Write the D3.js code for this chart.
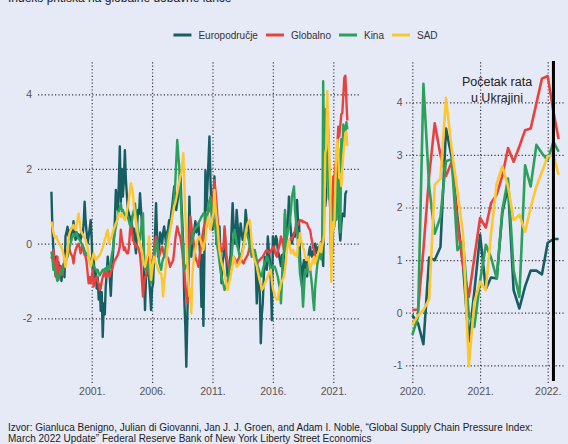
<!DOCTYPE html>
<html>
<head>
<meta charset="utf-8">
<script src="https://cdn.jsdelivr.net/npm/d3@7"></script>
<style>
  body { margin: 0; background: #e6e9f6; }
  svg text { font-family: "Liberation Sans", Arial, sans-serif; }
</style>
</head>
<body>
<script>
const W = 568, H = 444

// series names + colours (legend order = draw order)
const names = ["Europodručje", "Globalno", "Kina", "SAD"]
const colors = ["#175e63", "#e8423f", "#2ba05a", "#fdc731"]

// monthly values, Sep 1997 .. Dec 2019 (one row per year)
const euHist = [
  [1.39, 0.4, -0.17, -0.4],
  [-0.6, -0.35, -0.9, -0.5, -0.8, -0.6, -1.0, -0.7, -0.55, -0.9, 0.2, 0.3],
  [0.45, 0.2, 0.35, 0.1, 0.4, 0.3, 0.6, 0.25, 0.1, 0.3, 0.15, 0.25],
  [0.2, 0.1, 0.3, 0.2, 0.5, 1.12, 0.6, 0.3, 0.0, 0.2, 0.4, 0.63],
  [0.1, -0.7, -0.4, -0.9, -0.7, -1.2, -0.9, -1.5, -1.1, -1.8, -1.3, -2.5],
  [-1.6, -1.9, -1.15, -0.8, -0.35, -0.7, -0.9, -1.4, -0.8, -0.35, 0.1, 0.6],
  [1.44, 1.1, 0.9, 1.6, 2.6, 1.1, 2.0, 1.26, 1.7, 2.5, 1.7, 1.3],
  [0.9, 0.8, 0.6, 0.72, 0.5, 0.3, 0.4, 0.0, -0.26, 0.4, 0.9, 0.8],
  [1.35, 0.9, 0.5, 0.2, -0.6, -1.78, -0.9, -0.8, -0.53, -0.9, -1.3, -1.78],
  [-1.2, -1.06, -0.4, 0.3, 1.08, 0.2, -0.35, -0.1, 0.3, 0.19, 0.0, 0.3],
  [0.46, 0.2, 0.0, 0.3, 0.4, 0.63, 0.5, 0.8, 1.0, 1.26, 1.53, 1.2],
  [0.9, 1.1, 1.26, 1.5, 1.96, 1.2, 0.6, -0.08, -1.5, -2.2, -3.3, -2.0],
  [-0.7, 1.26, 0.4, -0.35, 0.1, 0.2, 0.37, 0.6, 0.3, 0.5, 0.54, 0.1],
  [-0.5, -1.69, -0.3, -2.2, -0.35, 1.96, 0.9, 1.5, 2.2, 2.87, 1.7, 1.0],
  [0.37, 1.2, 1.8, 1.0, 0.0, 0.3, 0.2, 0.46, -0.4, -1.06, -0.5, -0.35],
  [0.37, -0.2, -0.5, -0.88, -0.6, -0.53, -0.3, 0.4, 1.08, 0.5, 0.0, 0.2],
  [0.9, 0.5, -0.17, 0.2, 0.54, 0.3, 0.1, 0.19, 0.4, 0.9, 0.6, 0.5],
  [0.37, 0.1, -0.2, -0.08, -0.2, -0.3, -0.35, -0.6, -1.6, -0.9, -0.7, -1.3],
  [-2.67, -1.9, -1.6, -0.9, -0.35, -0.5, -0.7, 0.19, -0.2, -0.44, -1.0, -2.05],
  [0.19, -0.1, 0.0, 0.2, 0.1, -0.2, -0.3, -0.44, -0.6, -0.3, -0.8, -0.53],
  [0.8, 0.3, 0.19, 0.6, 1.26, 0.63, 0.3, 0.0, 0.2, 0.28, 0.19, 0.5],
  [1.17, 0.54, 0.6, -0.35, -0.8, -1.15, -0.6, -0.44, -0.7, -0.5, -0.88, -0.44],
  [-0.2, -0.08, -0.3, -0.35, -0.2, -0.35, 0.0, -0.1, -0.26, -0.1, -0.17, 0.0]
].flat()

const glHist = [
  [-0.4, -0.3, -0.17, -0.5],
  [-0.88, -0.6, -0.35, -0.97, -0.7, -0.62, -0.8, -0.84, -0.6, -0.5, -0.35, -0.3],
  [-0.2, -0.08, -0.15, -0.25, -0.3, -0.35, -0.53, -0.3, -0.17, -0.1, -0.05, 0.0],
  [-0.1, -0.26, -0.15, -0.04, -0.2, -0.3, -0.35, -0.5, -0.8, -1.06, -0.9, -1.06],
  [-0.9, -0.7, -1.15, -1.0, -0.95, -0.88, -1.0, -1.1, -1.24, -1.2, -1.0, -0.9],
  [-0.8, -0.75, -0.9, -0.7, -0.8, -0.85, -0.88, -0.75, -0.7, -0.62, -0.5, -0.45],
  [-0.4, -0.35, -0.3, -0.2, -0.08, 0.37, 0.1, 0.0, -0.17, -0.1, -0.2, -0.26],
  [-0.26, -0.1, 0.3, 0.54, 0.3, 0.1, 0.05, 0.0, -0.1, -0.05, -0.1, -0.17],
  [-0.3, -0.6, -1.0, -1.42, -1.1, -0.9, -0.88, -0.7, -0.5, -0.35, -0.4, -0.5],
  [-0.53, -0.4, -0.2, 0.0, 0.19, 0.0, -0.2, -0.35, -0.25, -0.15, -0.08, -0.2],
  [-0.3, -0.25, -0.35, -0.35, -0.4, -0.5, -0.62, -0.55, -0.5, -0.44, -0.2, 0.1],
  [0.3, 0.46, 0.35, 0.25, 0.19, 0.0, -0.2, -0.5, -0.7, -1.1, -1.4, -1.6],
  [-1.2, 0.2, 0.72, 0.5, 0.28, 0.1, -0.1, -0.35, -0.45, -0.5, -0.62, -0.4],
  [-0.2, 0.01, 0.2, 0.37, 0.5, 0.6, 0.72, 0.8, 0.85, 0.9, 1.0, 1.1],
  [1.2, 1.26, 1.7, 1.4, 1.08, 0.7, 0.4, 0.0, -0.1, -0.2, -0.17, -0.1],
  [0.46, 0.1, -0.35, -0.5, -0.6, -0.7, -0.6, -0.5, -0.4, -0.35, -0.4, -0.45],
  [-0.53, -0.45, -0.4, -0.35, -0.4, -0.45, -0.5, -0.53, -0.45, -0.4, -0.35, -0.3],
  [-0.2, -0.08, -0.1, -0.15, -0.17, -0.2, -0.3, -0.4, -0.53, -0.5, -0.45, -0.44],
  [-0.4, -0.38, -0.35, -0.3, -0.25, -0.2, -0.17, -0.2, -0.25, -0.26, -0.2, -0.15],
  [-0.1, -0.08, -0.2, -0.3, -0.35, -0.2, -0.1, 0.0, 0.19, 0.1, 0.0, -0.17],
  [-0.2, -0.17, -0.1, 0.0, 0.05, 0.1, 0.15, 0.12, 0.19, 0.25, 0.35, 0.45],
  [0.54, 0.5, 0.58, 0.63, 0.6, 0.62, 0.58, 0.59, 0.57, 0.55, 0.54, 0.45],
  [0.4, 0.37, 0.2, 0.05, -0.1, -0.17, -0.35, -0.45, -0.53, -0.45, -0.35, -0.17]
].flat()

const cnHist = [
  [-0.21, -0.4, -0.7, -0.6],
  [-0.8, -0.9, -1.0, -0.85, -0.9, -0.8, -0.7, -0.75, -0.62, -0.5, -0.55, -0.4],
  [-0.35, -0.2, -0.1, 0.0, 0.1, 0.19, 0.25, 0.2, 0.23, 0.3, 0.2, 0.14],
  [0.1, 0.05, 0.0, -0.08, -0.1, -0.2, -0.26, -0.3, -0.25, -0.35, -0.4, -0.45],
  [-0.5, -0.53, -0.6, -0.65, -0.7, -0.75, -0.7, -0.8, -0.85, -0.8, -0.75, -0.7],
  [-0.72, -0.68, -0.66, -0.7, -0.6, -0.7, -0.65, -0.5, -0.3, -0.17, 0.1, 0.3],
  [0.45, 0.6, 0.75, 0.9, 0.95, 1.08, 0.86, 0.9, 0.81, 0.75, 0.8, 0.72],
  [0.72, 0.6, 0.5, 0.46, 0.6, 0.8, 0.9, 1.08, 0.8, 0.5, 0.3, 0.1],
  [0.1, 0.4, 0.6, 0.81, -0.3, -0.7, -0.6, -0.5, -0.53, -0.8, -0.9, -1.06],
  [-0.8, -0.6, -0.35, -0.2, 0.0, 0.1, -0.2, -0.5, -0.6, -0.7, -0.5, -0.4],
  [-0.35, -0.2, 0.0, 0.19, 0.25, 0.35, 0.45, 0.54, 0.8, 1.0, 1.26, 1.6],
  [2.2, 2.78, 2.4, 2.06, 1.5, 0.9, 0.3, -0.2, -0.7, -0.65, -0.6, -0.53],
  [-0.4, -0.2, 0.0, 0.01, 0.15, 0.3, 0.37, 0.4, 0.45, 0.46, 0.55, 0.6],
  [0.65, 0.72, 0.75, 0.81, 0.81, 0.7, 0.46, 0.8, 1.08, 1.15, 1.26, 0.9],
  [0.63, 0.6, 0.63, 0.4, 0.1, -0.1, -0.26, -0.5, -0.7, -0.88, -1.0, -1.1],
  [-1.24, -1.15, -1.1, -1.06, -0.9, -0.7, -0.5, -0.35, 0.0, 0.2, 0.37, 0.2],
  [0.01, -0.1, -0.2, -0.35, -0.3, -0.25, -0.17, 0.0, 0.2, 0.37, 0.3, 0.19],
  [0.1, -0.1, -0.2, -0.35, -0.3, -0.2, -0.17, -0.3, -0.45, -0.6, -0.7, -0.8],
  [-0.85, -0.88, -0.7, -0.6, -0.53, -0.45, -0.35, -0.4, -0.5, -0.6, -0.7, -0.65],
  [-0.6, -0.62, -0.62, -0.7, -0.8, -0.9, -1.06, -1.2, -1.6, -1.0, -0.35, -0.2],
  [0.9, -0.17, 0.2, 0.37, 0.45, 0.63, 0.9, 1.26, 1.4, 1.53, 0.9, 0.6],
  [0.37, 0.0, -0.35, -0.8, -1.0, -1.15, -1.69, -1.2, -0.7, -0.8, -0.7, -0.53],
  [-0.6, -0.7, -0.9, -1.15, -1.5, -1.78, -1.2, -0.88, -0.6, -0.35, -0.3, -0.26]
].flat()

const usHist = [
  [0.59, 0.46, 0.3, 0.19],
  [0.15, 0.2, 0.1, 0.05, 0.0, -0.05, -0.1, -0.17, -0.3, -0.45, -0.62, -0.4],
  [-0.21, 0.1, 0.28, 0.35, 0.4, 0.46, 0.5, 0.4, 0.37, 0.5, 0.65, 0.81],
  [0.6, 0.37, 0.3, 0.25, 0.19, 0.15, 0.1, 0.0, -0.1, -0.35, -0.5, -0.62],
  [-0.5, -0.35, -0.26, -0.35, -0.44, -0.4, -0.35, -0.35, -0.3, -0.25, -0.17, -0.1],
  [0.0, 0.1, 0.19, 0.3, 0.37, 0.01, 0.1, 0.15, 0.19, 0.3, 0.4, 0.45],
  [0.54, 0.6, 0.7, 0.81, 0.75, 0.72, 0.81, 0.75, 0.7, 0.63, 0.7, 0.85],
  [1.0, 1.2, 1.4, 1.62, 1.5, 1.35, 1.0, 0.81, 0.6, 0.4, 0.19, 0.1],
  [0.0, -0.08, -0.2, -0.4, -0.55, -0.62, -0.5, -0.35, -0.26, 0.19, -0.4, -0.97],
  [-0.7, -0.5, -0.35, -0.45, -0.55, -0.6, -0.7, -0.75, -0.8, -0.8, -1.0, -1.42],
  [-1.0, -0.8, -0.5, -0.2, 0.01, 0.2, 0.35, 0.54, 0.7, 0.85, 1.0, 1.08],
  [1.2, 1.35, 1.5, 1.65, 1.8, 1.88, 2.1, 2.42, 1.6, 0.8, 0.19, -0.5],
  [-1.06, -1.4, -1.2, -1.87, -0.9, -0.53, -0.3, -0.15, 0.01, 0.1, 0.15, 0.19],
  [0.1, 0.0, -0.08, -0.17, 0.01, 0.1, 0.46, 0.6, 0.72, 0.5, 0.37, 0.5],
  [0.7, 0.81, 1.44, 1.0, 0.7, 0.46, 0.1, -0.2, -0.35, -0.5, -0.6, -0.7],
  [-0.8, -0.97, -1.1, -1.24, -1.1, -1.0, -0.88, -0.7, -0.55, -0.35, -0.45, -0.55],
  [-0.62, -0.6, -0.55, -0.53, -0.45, -0.35, -0.2, -0.08, 0.1, 0.3, 0.46, 0.55],
  [0.6, 0.63, 0.4, 0.01, -0.2, -0.35, -0.45, -0.53, -0.6, -0.75, -0.88, -1.0],
  [-1.1, -1.24, -1.2, -1.15, -1.06, -1.0, -0.95, -0.88, -0.8, -0.75, -0.7, -1.0],
  [-1.2, -1.3, -1.42, -1.45, -1.5, -1.5, -1.3, -1.2, -1.06, -1.0, -0.95, -0.88],
  [-0.7, -0.4, -0.17, 0.0, 0.1, -0.1, -0.26, -0.2, -0.17, -0.3, -0.26, -0.3],
  [-0.35, 0.1, -0.05, 0.28, 0.1, 0.01, -0.1, -0.17, -0.35, -0.4, -0.44, -0.35],
  [-0.5, -0.7, -0.6, -0.53, -0.4, -0.35, -0.53, -0.45, -0.35, -0.25, -0.17, 0.01]
].flat()

// monthly values, Jan 2020 .. Mar 2022 (also the zoomed right panel)
const euRecent = [-0.05, -0.2, -0.6, 1.05, 1.0, 1.25, 3.5, 2.95, 1.8, 0.9, -0.55, 0.4, 1.48, 0.45, 0.67, 0.65, 1.9, 2.4, 0.43, 0.08, 0.5, 0.8, 0.8, 0.73, 1.33, 1.4, 1.4]
const glRecent = [0.05, 0.06, 1.2, 2.6, 3.6, 3.0, 2.6, 2.87, 1.7, 0.9, 0.3, 1.05, 1.8, 1.62, 2.08, 2.25, 2.6, 3.13, 2.87, 3.16, 3.47, 3.5, 3.98, 4.45, 4.5, 3.82, 3.3]
const cnRecent = [-0.42, -0.08, 4.35, 2.4, 1.5, 1.82, 2.88, 2.92, 1.19, 1.35, -0.05, -0.27, 0.6, 1.29, 1.05, 0.65, 1.95, 2.55, 0.8, 0.3, 2.8, 2.4, 3.19, 3.03, 2.9, 3.25, 3.06]
const usRecent = [-0.23, -0.05, 0.05, 0.26, 2.43, 2.55, 4.08, 3.1, 2.3, 1.5, -1.02, 0.2, 0.59, 0.43, 1.5, 2.46, 2.78, 2.4, 1.76, 1.86, 1.54, 2.0, 2.4, 2.68, 2.97, 3.0, 2.62]

// ticks
const leftYears = [2001, 2006, 2011, 2016, 2021]
const rightYears = [2020, 2021, 2022]
const leftYTicks = [-2, 0, 2, 4]
const rightYTicks = [-1, 0, 1, 2, 3, 4]
const warStart = new Date(2022, 1, 1)

const titleText = "Indeks pritiska na globalne dobavne lance"
const noteText = ["Početak rata", "u Ukrajini"]
const sourceText = [
  "Izvor: Gianluca Benigno, Julian di Giovanni, Jan J. J. Groen, and Adam I. Noble, \u201cGlobal Supply Chain Pressure Index:",
  "March 2022 Update\u201d Federal Reserve Bank of New York Liberty Street Economics"
]

const hist = [euHist, glHist, cnHist, usHist]
const recent = [euRecent, glRecent, cnRecent, usRecent]

const fullSeries = hist.map((h, s) => h.concat(recent[s]).map((v, i) => ({ date: new Date(1997, 8 + i, 1), v })))
const recentSeries = recent.map(r => r.map((v, i) => ({ date: new Date(2020, i, 1), v })))

const svg = d3.select("body").append("svg").attr("width", W).attr("height", H)
svg.append("rect").attr("width", W).attr("height", H).attr("fill", "#e6e9f6")

// title (cut off at top of the picture)
svg.append("text").attr("x", 8).attr("y", 2).attr("font-size", 12).attr("fill", "#222").text(titleText)

// panels
const plotTop = 60, plotBottom = 383
const L = { x0: 38, x1: 361 }
const R = { x0: 406, x1: 565 }

const xL = d3.scaleTime().domain([new Date(2001, 0, 1), new Date(2021, 0, 1)]).range([91.7, 333.3])
const yL = d3.scaleLinear().domain([-2, 4]).range([318.3, 94.3])
const xR = d3.scaleTime().domain([new Date(2020, 0, 1), new Date(2022, 0, 1)]).range([412.3, 547.7])
const yR = d3.scaleLinear().domain([-1, 4]).range([365.3, 102.3])

function styleAxis(g) {
  g.select(".domain").remove()
  g.selectAll(".tick line").attr("stroke", "#3a3a44").attr("stroke-width", 1.2).attr("stroke-dasharray", "1.2,2.2")
  g.selectAll(".tick text").attr("fill", "#555").attr("font-size", 10.5)
}

// left panel grid + axes
svg.append("g").attr("transform", `translate(${L.x0},0)`)
  .call(d3.axisLeft(yL).tickValues(leftYTicks).tickFormat(d => String(d)).tickSize(-(L.x1 - L.x0)).tickPadding(6))
  .call(styleAxis)
svg.append("g").attr("transform", `translate(0,${plotBottom})`)
  .call(d3.axisBottom(xL).tickValues(leftYears.map(y => new Date(y, 0, 1))).tickFormat(d => d.getFullYear() + ".").tickSize(-(plotBottom - plotTop)).tickPadding(4.5))
  .call(styleAxis)

// right panel grid + axes
svg.append("g").attr("transform", `translate(${R.x0},0)`)
  .call(d3.axisLeft(yR).tickValues(rightYTicks).tickFormat(d => String(d)).tickSize(-(R.x1 - R.x0)).tickPadding(3.5))
  .call(styleAxis)
svg.append("g").attr("transform", `translate(0,${plotBottom})`)
  .call(d3.axisBottom(xR).tickValues(rightYears.map(y => new Date(y, 0, 1))).tickFormat(d => d.getFullYear() + ".").tickSize(-(plotBottom - plotTop)).tickPadding(4.5))
  .call(styleAxis)

// lines
const lineL = d3.line().x(d => xL(d.date)).y(d => yL(d.v))
const lineR = d3.line().x(d => xR(d.date)).y(d => yR(d.v))

svg.append("g").selectAll("path").data(fullSeries).join("path")
  .attr("d", lineL).attr("fill", "none")
  .attr("stroke", (d, i) => colors[i]).attr("stroke-width", 2.4).attr("stroke-linejoin", "round")

svg.append("g").selectAll("path").data(recentSeries).join("path")
  .attr("d", lineR).attr("fill", "none")
  .attr("stroke", (d, i) => colors[i]).attr("stroke-width", 2.6).attr("stroke-linejoin", "round")

// war marker
svg.append("line")
  .attr("x1", xR(warStart)).attr("x2", xR(warStart))
  .attr("y1", plotTop + 1).attr("y2", plotBottom - 2)
  .attr("stroke", "#000").attr("stroke-width", 3)

svg.append("g").selectAll("text").data(noteText).join("text")
  .attr("x", 497).attr("y", (d, i) => 85.5 + i * 16.5)
  .attr("text-anchor", "middle").attr("font-size", 12.5).attr("fill", "#222")
  .text(d => d)

// legend
const legend = svg.append("g")
let lx = 0
names.forEach((n, i) => {
  const g = legend.append("g").attr("transform", `translate(${lx},0)`)
  g.append("line").attr("x1", 0).attr("x2", 18).attr("y1", 0).attr("y2", 0)
    .attr("stroke", colors[i]).attr("stroke-width", 3)
  const t = g.append("text").attr("x", 25).attr("y", 3.6).attr("font-size", 10).attr("fill", "#333").text(n)
  lx += 25 + t.node().getComputedTextLength() + 8
})
const legendW = lx - 8
legend.attr("transform", `translate(${305.5 - legendW / 2},35)`)

// source
svg.append("g").selectAll("text").data(sourceText).join("text")
  .attr("x", 8).attr("y", (d, i) => 431 + i * 11)
  .attr("font-size", 10).attr("fill", "#222")
  .text(d => d)
</script>
</body>
</html>
